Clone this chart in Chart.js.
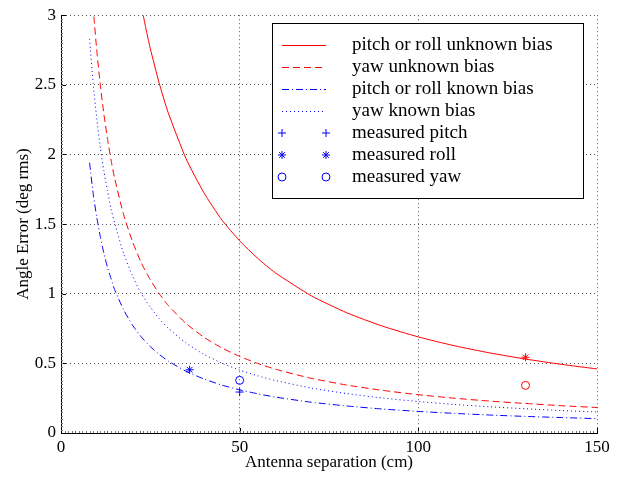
<!DOCTYPE html>
<html>
<head>
<meta charset="utf-8">
<script src="https://cdn.jsdelivr.net/npm/chart.js@4"></script>
<style>
  body { margin: 0; background: #fff; }
  #wrap { width: 621px; height: 479px; }
</style>
</head>
<body>
<div id="wrap"><canvas id="grafico" width="621" height="479"></canvas></div>
<script>
// curve read-offs (x in cm, y in deg rms)
var xPitchUnknown = [23, 24, 25, 27.5, 30, 35, 40, 45, 50, 55, 60, 70, 80, 90, 100, 110, 120, 130, 140, 150];
var yPitchUnknown = [3.0, 2.875, 2.76, 2.51, 2.30, 1.97, 1.725, 1.53, 1.38, 1.255, 1.15, 0.986, 0.863, 0.767, 0.69, 0.627, 0.575, 0.531, 0.493, 0.46];

var xYawUnknown = [9.2, 10, 11, 12, 13, 14, 15, 17.5, 20, 22.5, 25, 27.5, 30, 35, 40, 45, 50, 55, 60, 70, 80, 90, 100, 110, 120, 130, 140, 150];
var yYawUnknown = [2.99, 2.75, 2.50, 2.29, 2.115, 1.96, 1.83, 1.57, 1.375, 1.22, 1.10, 1.0, 0.917, 0.786, 0.688, 0.611, 0.55, 0.50, 0.458, 0.393, 0.344, 0.306, 0.275, 0.25, 0.229, 0.212, 0.196, 0.183];

var xPitchKnown = [8, 9, 10, 11, 12, 13, 14, 15, 17.5, 20, 22.5, 25, 27.5, 30, 35, 40, 45, 50, 55, 60, 70, 80, 90, 100, 110, 120, 130, 140, 150];
var yPitchKnown = [1.94, 1.72, 1.55, 1.41, 1.29, 1.19, 1.11, 1.03, 0.886, 0.775, 0.689, 0.62, 0.564, 0.517, 0.443, 0.388, 0.344, 0.31, 0.282, 0.258, 0.221, 0.194, 0.172, 0.155, 0.141, 0.129, 0.119, 0.111, 0.103];

var xYawKnown = [8, 9, 10, 11, 12, 13, 14, 15, 17.5, 20, 22.5, 25, 27.5, 30, 35, 40, 45, 50, 55, 60, 70, 80, 90, 100, 110, 120, 130, 140, 150];
var yYawKnown = [2.83, 2.51, 2.26, 2.05, 1.88, 1.74, 1.61, 1.51, 1.29, 1.13, 1.0, 0.904, 0.82, 0.753, 0.646, 0.565, 0.502, 0.452, 0.411, 0.377, 0.323, 0.283, 0.251, 0.226, 0.205, 0.188, 0.174, 0.161, 0.151];

// measured points
var xMeasPitch = [50];
var yMeasPitch = [0.294];
var xMeasRoll = [36, 130];
var yMeasRoll = [0.454, 0.544];
var xMeasYaw = [50, 130];
var yMeasYaw = [0.378, 0.342];

var xTicks = [0, 50, 100, 150];
var yTicks = [0, 0.5, 1, 1.5, 2, 2.5, 3];

var legendLabels = ['pitch or roll unknown bias', 'yaw unknown bias', 'pitch or roll known bias',
  'yaw known bias', 'measured pitch', 'measured roll', 'measured yaw'];

var fuente = '"Liberation Serif", "Times New Roman", serif';

function pares(xs, ys) {
  return xs.map(function (x, i) { return { x: x, y: ys[i] }; });
}

function lineSet(label, xs, ys, color, dash) {
  return {
    label: label, data: pares(xs, ys), showLine: true, borderColor: color,
    borderWidth: 1, borderDash: dash, pointRadius: 0, tension: 0.2, fill: false
  };
}

function markSet(label, xs, ys, colors, style) {
  return {
    label: label, data: pares(xs, ys), showLine: false, pointStyle: style,
    pointRadius: 4, pointBorderWidth: 1, borderColor: colors, pointBorderColor: colors,
    backgroundColor: 'rgba(0,0,0,0)', pointBackgroundColor: 'rgba(0,0,0,0)'
  };
}

var estilos = [
  { color: '#ff0000', dash: [] },
  { color: '#ff0000', dash: [7, 4] },
  { color: '#0000ff', dash: [7, 3, 1, 3] },
  { color: '#0000ff', dash: [1, 3] },
  { color: '#0000ff', mark: 'cross' },
  { color: '#0000ff', mark: 'star' },
  { color: '#0000ff', mark: 'circle' }
];

// inward major ticks plus small minor ticks, like the original axes
var tickMarks = {
  id: 'tickMarks',
  afterDraw: function (chart) {
    var ctx = chart.ctx, a = chart.chartArea;
    var sx = chart.scales.x, sy = chart.scales.y;
    ctx.save();
    ctx.strokeStyle = '#000';
    ctx.lineWidth = 1;
    ctx.beginPath();
    xTicks.forEach(function (t) {
      var px = Math.round(sx.getPixelForValue(t)) + 0.5;
      ctx.moveTo(px, a.bottom); ctx.lineTo(px, a.bottom - 5);
    });
    yTicks.forEach(function (t) {
      var py = Math.round(sy.getPixelForValue(t)) + 0.5;
      ctx.moveTo(a.left, py); ctx.lineTo(a.left + 5, py);
    });
    ctx.stroke();
    ctx.strokeStyle = '#777';
    ctx.beginPath();
    for (var i = 1; i < 150; i++) {
      var mx = Math.round(sx.getPixelForValue(i)) + 0.5;
      ctx.moveTo(mx, a.bottom); ctx.lineTo(mx, a.bottom - 2);
    }
    for (var j = 1; j < 120; j++) {
      var my2 = Math.round(sy.getPixelForValue(j * 0.025)) + 0.5;
      ctx.moveTo(a.left, my2); ctx.lineTo(a.left + 2, my2);
    }
    ctx.stroke();
    ctx.restore();
  }
};

function marca(ctx, tipo, x, y, r) {
  ctx.beginPath();
  if (tipo === 'circle') {
    ctx.arc(x, y, r, 0, Math.PI * 2);
  } else {
    ctx.moveTo(x - r, y); ctx.lineTo(x + r, y);
    ctx.moveTo(x, y - r); ctx.lineTo(x, y + r);
    if (tipo === 'star') {
      var d = r * 0.7071;
      ctx.moveTo(x - d, y - d); ctx.lineTo(x + d, y + d);
      ctx.moveTo(x - d, y + d); ctx.lineTo(x + d, y - d);
    }
  }
  ctx.stroke();
}

var leyenda = {
  id: 'leyenda',
  afterDraw: function (chart) {
    var ctx = chart.ctx;
    var bx = 272, by = 23, bw = 311, bh = 175;
    ctx.save();
    ctx.fillStyle = '#fff';
    ctx.fillRect(bx, by, bw, bh);
    ctx.strokeStyle = '#000';
    ctx.lineWidth = 1;
    ctx.setLineDash([]);
    ctx.strokeRect(bx + 0.5, by + 0.5, bw, bh);
    ctx.font = '19px ' + fuente;
    ctx.textBaseline = 'middle';
    legendLabels.forEach(function (txt, i) {
      var y = 45 + i * 22;
      var s = estilos[i];
      ctx.lineWidth = 1;
      ctx.strokeStyle = s.color;
      if (s.mark) {
        ctx.setLineDash([]);
        marca(ctx, s.mark, 282, y, 4);
        marca(ctx, s.mark, 326, y, 4);
      } else {
        ctx.setLineDash(s.dash);
        ctx.beginPath();
        ctx.moveTo(282, y + 0.5);
        ctx.lineTo(326, y + 0.5);
        ctx.stroke();
        ctx.setLineDash([]);
      }
      ctx.fillStyle = '#000';
      ctx.fillText(txt, 352, y);
    });
    ctx.restore();
  }
};

var Grafico = document.getElementById('grafico');
var my = new Chart(Grafico, {
  type: 'scatter',
  data: {
    datasets: [
      lineSet(legendLabels[0], xPitchUnknown, yPitchUnknown, '#ff0000', []),
      lineSet(legendLabels[1], xYawUnknown, yYawUnknown, '#ff0000', [7, 4]),
      lineSet(legendLabels[2], xPitchKnown, yPitchKnown, '#0000ff', [7, 3, 1, 3]),
      lineSet(legendLabels[3], xYawKnown, yYawKnown, '#0000ff', [1, 3]),
      markSet(legendLabels[4], xMeasPitch, yMeasPitch, ['#0000ff'], 'cross'),
      markSet(legendLabels[5], xMeasRoll, yMeasRoll, ['#0000ff', '#ff0000'], 'star'),
      markSet(legendLabels[6], xMeasYaw, yMeasYaw, ['#0000ff', '#ff0000'], 'circle')
    ]
  },
  options: {
    responsive: false,
    animation: false,
    layout: { padding: { top: 12, right: 24, left: 0, bottom: 0 } },
    plugins: { legend: { display: false }, tooltip: { enabled: false } },
    scales: {
      x: {
        type: 'linear', min: 0, max: 150,
        afterBuildTicks: function (s) { s.ticks = xTicks.map(function (v) { return { value: v }; }); },
        afterFit: function (s) { s.height = 46; },
        ticks: { color: '#000', padding: 4, font: { family: fuente, size: 17 }, maxRotation: 0,
          callback: function (v) { return String(v); } },
        grid: { color: '#555', drawTicks: false, lineWidth: 1 },
        border: { color: '#000', width: 1, dash: [1, 3] },
        title: { display: true, text: 'Antenna separation (cm)', color: '#000',
          font: { family: fuente, size: 17 }, padding: { top: 0, bottom: 6 } }
      },
      y: {
        type: 'linear', min: 0, max: 3,
        afterBuildTicks: function (s) { s.ticks = yTicks.map(function (v) { return { value: v }; }); },
        afterFit: function (s) { s.width = 61; },
        ticks: { color: '#000', padding: 5, font: { family: fuente, size: 17 },
          callback: function (v) { return String(v); } },
        grid: { color: '#555', drawTicks: false, lineWidth: 1 },
        border: { color: '#000', width: 1, dash: [1, 3] },
        title: { display: true, text: 'Angle Error (deg rms)', color: '#000',
          font: { family: fuente, size: 17 }, padding: { top: 13, bottom: 0 } }
      }
    }
  },
  plugins: [tickMarks, leyenda]
});
</script>
</body>
</html>
